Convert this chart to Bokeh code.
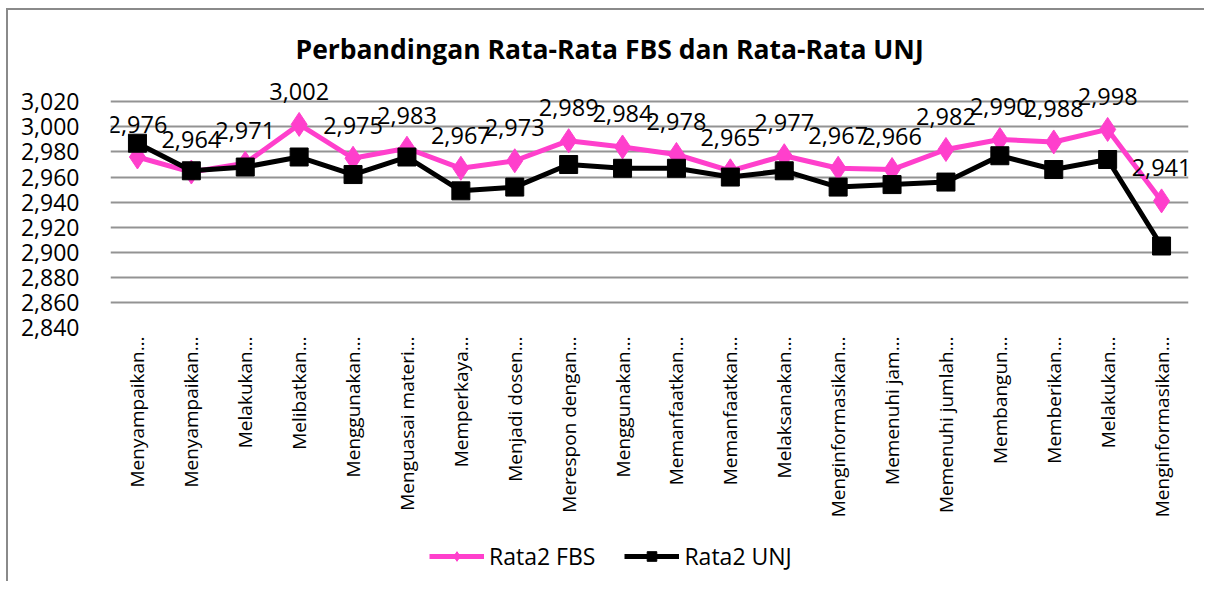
from bokeh.plotting import figure
from bokeh.layouts import column
from bokeh.core.properties import value
from bokeh.models import (ColumnDataSource, LabelSet, Legend, LegendItem, FixedTicker,
                          CustomJSTickFormatter, Range1d, Title)
from bokeh.embed import file_html
from bokeh.resources import INLINE

categories = ["Menyampaikan…", "Menyampaikan…", "Melakukan…", "Melibatkan…", "Menggunakan…",
              "Menguasai materi…", "Memperkaya…", "Menjadi dosen…", "Merespon dengan…", "Menggunakan…",
              "Memanfaatkan…", "Memanfaatkan…", "Melaksanakan…", "Menginformasikan…", "Memenuhi jam…",
              "Memenuhi jumlah…", "Membangun…", "Memberikan…", "Melakukan…", "Menginformasikan…"]
fbs = [2.976, 2.964, 2.971, 3.002, 2.975, 2.983, 2.967, 2.973, 2.989, 2.984,
       2.978, 2.965, 2.977, 2.967, 2.966, 2.982, 2.990, 2.988, 2.998, 2.941]
unj = [2.987, 2.965, 2.968, 2.976, 2.962, 2.976, 2.949, 2.952, 2.970, 2.967,
       2.967, 2.960, 2.965, 2.952, 2.954, 2.956, 2.977, 2.966, 2.974, 2.905]
y_ticks = [2.84, 2.86, 2.88, 2.90, 2.92, 2.94, 2.96, 2.98, 3.00, 3.02]

FONT = "Open Sans"
PINK = "#FF3FCC"
xs = list(range(1, len(categories) + 1))

src = ColumnDataSource(dict(x=xs, fbs=fbs, unj=unj,
                            lab=[f"{v:.3f}".replace(".", ",") for v in fbs]))

# headroom above the top gridline so the data labels are not clipped
p = figure(width=1196, height=523, output_backend="svg", toolbar_location=None,
           x_range=Range1d(0.5, len(categories) + 0.5), y_range=Range1d(y_ticks[0], y_ticks[-1] + 0.025),
           min_border_left=102, min_border_right=16, min_border_top=60, min_border_bottom=206,
           outline_line_color=None, background_fill_color="white", border_fill_color="white")

t = Title(text="Perbandingan Rata-Rata FBS dan Rata-Rata UNJ", align="left", offset=185,
          text_font=FONT, text_font_size="26.5px", text_font_style="bold", text_color="black",
          standoff=8)
p.add_layout(t, "above")

r1l = p.line("x", "fbs", source=src, line_color=PINK, line_width=5)
r1m = p.scatter("x", "fbs", source=src, marker="diamond", size=24, fill_color=PINK, line_color=PINK)
r2l = p.line("x", "unj", source=src, line_color="black", line_width=5)
r2m = p.scatter("x", "unj", source=src, marker="square", size=18, fill_color="black", line_color="black")

labels = LabelSet(x="x", y="fbs", text="lab", source=src, text_align="center", text_baseline="middle",
                  y_offset=33, text_font=value(FONT), text_font_size=value("23.5px"),
                  text_color="black")
p.add_layout(labels)

# axes
p.xaxis.ticker = FixedTicker(ticks=xs)
p.xaxis.major_label_overrides = {i: c for i, c in zip(xs, categories)}
p.xaxis.major_label_orientation = 1.5707963267948966
p.xaxis.major_label_text_font = FONT
p.xaxis.major_label_text_font_size = "19px"
p.xaxis.major_label_text_color = "black"
p.xaxis.major_label_standoff = 3
p.xaxis.axis_line_color = None
p.xaxis.major_tick_line_color = None
p.xaxis.minor_tick_line_color = None

p.yaxis.ticker = FixedTicker(ticks=y_ticks)
p.yaxis.formatter = CustomJSTickFormatter(code="return tick.toFixed(3).replace('.', ',');")
p.yaxis.major_label_text_font = FONT
p.yaxis.major_label_text_font_size = "23px"
p.yaxis.major_label_text_color = "black"
p.yaxis.major_label_standoff = 25
p.yaxis.axis_line_color = None
p.yaxis.major_tick_line_color = None
p.yaxis.minor_tick_line_color = None

p.xgrid.grid_line_color = None
p.ygrid.grid_line_color = "#939393"
p.ygrid.grid_line_width = 2
p.ygrid.ticker = FixedTicker(ticks=y_ticks)

# legend strip below the chart; its renderers use the same data but lie outside this strip's view
lg = figure(width=1196, height=48, output_backend="svg", toolbar_location=None,
            x_range=Range1d(0, 1), y_range=Range1d(0, 1), min_border=0,
            outline_line_color=None, background_fill_color="white", border_fill_color="white")
lg.axis.visible = False
lg.grid.visible = False
d1l = lg.line("x", "fbs", source=src, line_color=PINK, line_width=5)
d1m = lg.scatter("x", "fbs", source=src, marker="diamond", size=22, fill_color=PINK, line_color=PINK)
d2l = lg.line("x", "unj", source=src, line_color="black", line_width=5)
d2m = lg.scatter("x", "unj", source=src, marker="square", size=17, fill_color="black", line_color="black")
legend = Legend(items=[LegendItem(label="Rata2 FBS", renderers=[d1l, d1m]),
                       LegendItem(label="Rata2 UNJ", renderers=[d2l, d2m])],
                orientation="horizontal", location=(319, 9),
                label_text_font=FONT, label_text_font_size="23px", label_text_color="black",
                glyph_width=55, glyph_height=24, label_standoff=5, spacing=29,
                border_line_color=None, background_fill_alpha=0, margin=0, padding=4)
lg.add_layout(legend)

layout = column(p, lg, spacing=0,
                styles={"border-top": "2px solid #8a8a8a", "border-left": "2px solid #8a8a8a",
                        "margin-left": "6px", "margin-top": "8px"})

html = file_html(layout, INLINE)
open("out.html", "w").write(html)
